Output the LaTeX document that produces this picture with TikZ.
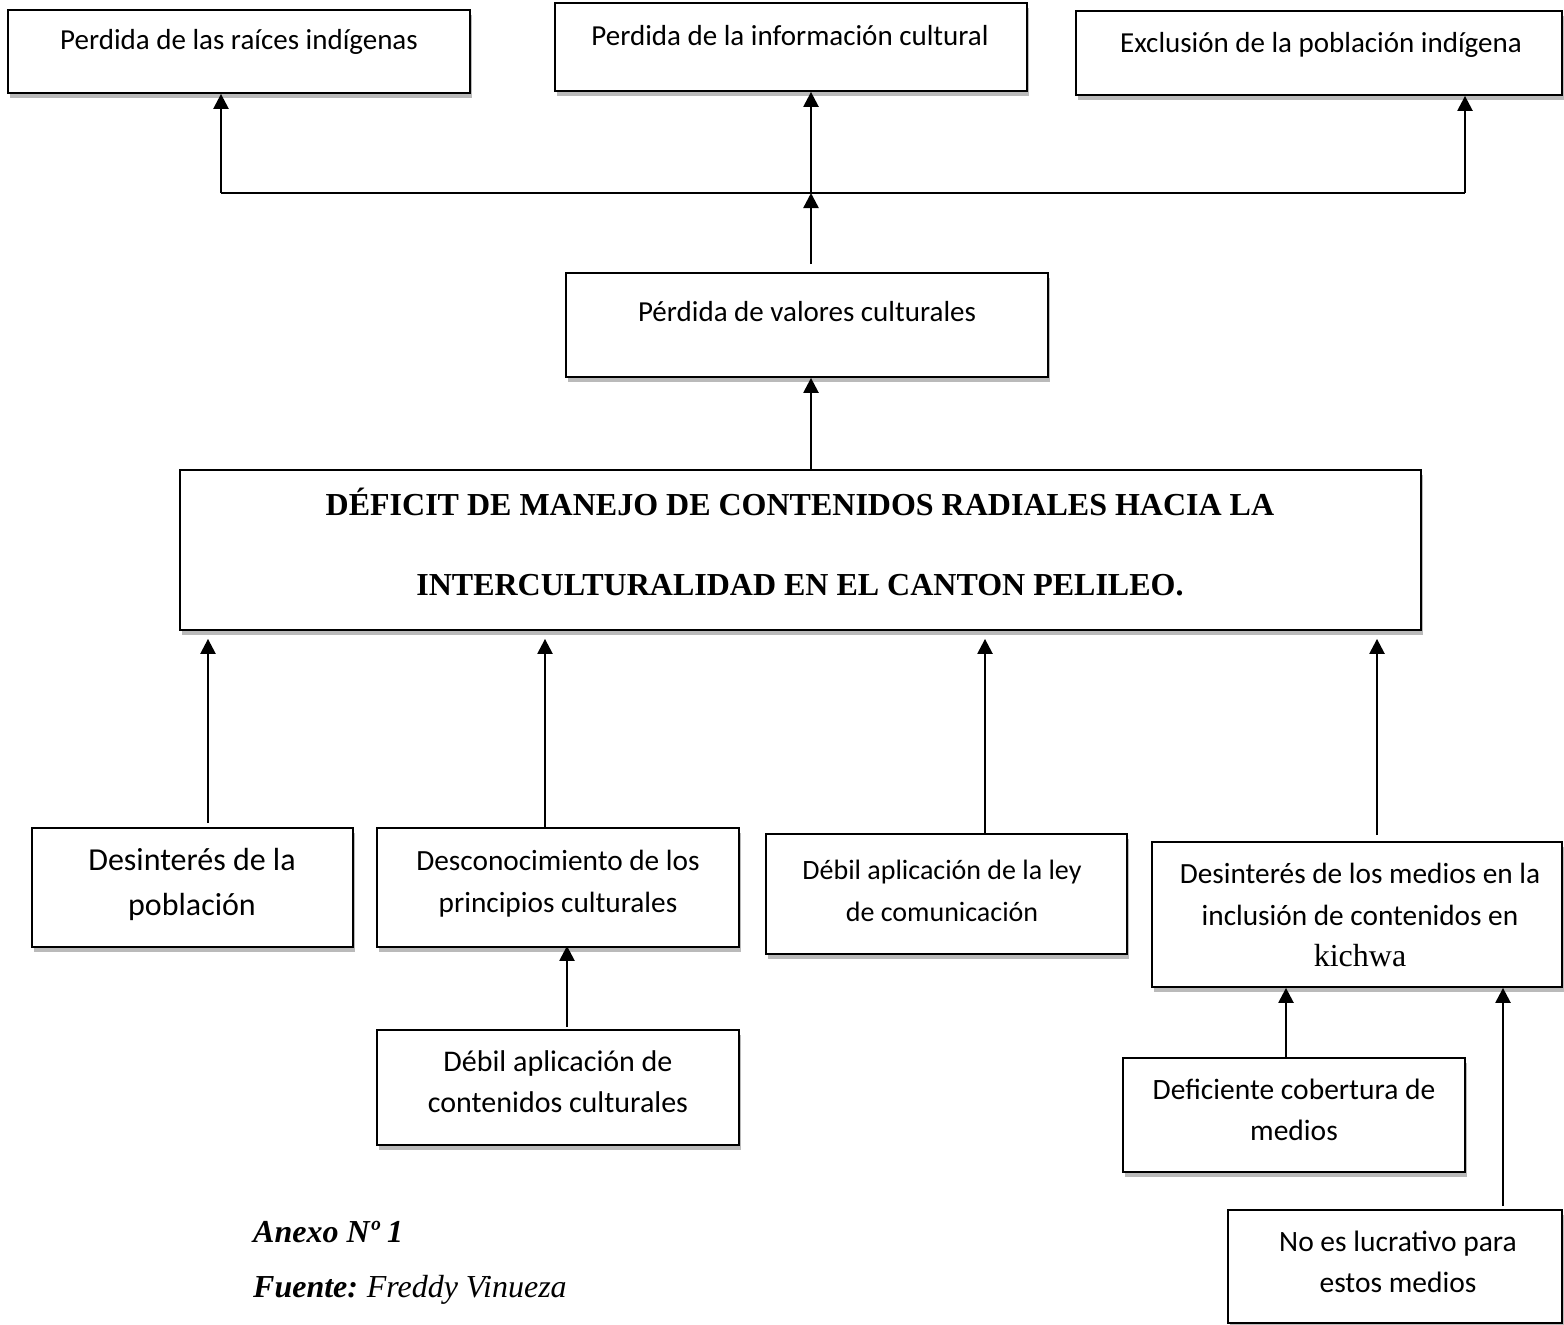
\documentclass[tikz,border=0pt]{standalone}
\usepackage{fontspec}
\setmainfont{Liberation Serif}
\newfontfamily\carlito{Carlito}
\usetikzlibrary{arrows.meta,shadows}
\tikzset{
  box/.style={draw, line width=1.8pt, fill=white, inner sep=0pt,
    drop shadow={shadow xshift=1.5pt, shadow yshift=-4.5pt, fill=black!45, opacity=0.6}},
  lbl/.style={font=\carlito\fontsize{29}{42}\selectfont, align=center, inner sep=0pt},
  arr/.style={line width=2.4pt, -{Triangle[width=15pt,length=15pt]}},
  ln/.style={line width=2pt}
}
\begin{document}
\begin{tikzpicture}[x=1pt,y=1pt]
\useasboundingbox (0,0) rectangle (1564,-1325);
% top effects
\node[box, minimum width=462, minimum height=83] (a1) at (239,-51.5) {};
\node[lbl] (a1t) at (239,-42) {Perdida de las raíces indígenas};
\node[box, minimum width=472, minimum height=88] (a2) at (791,-47) {};
\node[lbl] (a2t) at (790,-36) {Perdida de la información cultural};
\node[box, minimum width=486, minimum height=84] (a3) at (1319,-53) {};
\node[lbl] (a3t) at (1321,-45) {Exclusión de la población indígena};
% middle effect
\node[box, minimum width=482, minimum height=104] (b) at (807,-325) {};
\node[lbl] (bt) at (807,-312) {Pérdida de valores culturales};
% main problem
\node[box, minimum width=1241, minimum height=160] (m) at (800.5,-550) {};
\node[font=\bfseries\fontsize{32}{80}\selectfont, align=center, inner sep=0pt] (mt) at (800,-542)
  {DÉFICIT DE MANEJO DE CONTENIDOS RADIALES HACIA LA\\INTERCULTURALIDAD EN EL CANTON PELILEO.};
% causes
\node[box, minimum width=321, minimum height=119] (c1) at (192.5,-887.5) {};
\node[lbl, font=\carlito\fontsize{32}{45}\selectfont] (c1t) at (192,-884) {Desinterés de la\\población};
\node[box, minimum width=362, minimum height=119] (c2) at (558,-887.5) {};
\node[lbl, font=\carlito\fontsize{29.3}{42}\selectfont] (c2t) at (558,-884) {Desconocimiento de los\\principios culturales};
\node[box, minimum width=361, minimum height=120] (c3) at (946.5,-894) {};
\node[lbl, font=\carlito\fontsize{28}{42}\selectfont] (c3t) at (942,-891) {Débil aplicación de la ley\\de comunicación};
\node[box, minimum width=410, minimum height=145] (c4) at (1357,-914.5) {};
\node[lbl, font=\carlito\fontsize{29.3}{41.5}\selectfont] (c4t) at (1360,-915)
  {Desinterés de los medios en la\\inclusión de contenidos en\\{\rmfamily\fontsize{32}{41.5}\selectfont kichwa}};
% sub-causes
\node[box, minimum width=362, minimum height=115] (d1) at (558,-1087.5) {};
\node[lbl, font=\carlito\fontsize{30}{41}\selectfont] (d1t) at (558,-1082) {Débil aplicación de\\contenidos culturales};
\node[box, minimum width=342, minimum height=114] (d2) at (1294,-1115) {};
\node[lbl, font=\carlito\fontsize{29.5}{41}\selectfont] (d2t) at (1294,-1110) {Deficiente cobertura de\\medios};
\node[box, minimum width=334, minimum height=113] (d3) at (1395,-1266.5) {};
\node[lbl, font=\carlito\fontsize{29.5}{41}\selectfont] (d3t) at (1398,-1262) {No es lucrativo para\\estos medios};
% footer
\node[anchor=base west, inner sep=0pt, font=\bfseries\itshape\fontsize{32}{38}\selectfont] (anexo) at (253,-1242) {Anexo Nº 1};
\node[anchor=base west, inner sep=0pt, font=\itshape\fontsize{32}{38}\selectfont] (fuente) at (253,-1297) {\textbf{Fuente:}\hspace{-2pt} Freddy Vinueza};
% connectors
\coordinate (jL) at (221,-193);
\coordinate (jM) at (811,-193);
\coordinate (jR) at (1465,-193);
\draw[ln] (jL) -- (jR);
\draw[arr] (jL) -- (jL |- a1.south);
\draw[arr] (jM) -- (jM |- a2.south);
\draw[arr] (jR) -- (jR |- a3.south);
\draw[arr, shorten <=8pt] (jM |- b.north) -- (jM);
\draw[arr] (jM |- m.north) -- (jM |- b.south);
\draw[arr, shorten <=4pt, shorten >=8pt] ([xshift=15.5pt]c1.north) -- ([xshift=15.5pt]c1.north |- m.south);
\draw[arr, shorten >=8pt] ([xshift=-13pt]c2.north) -- ([xshift=-13pt]c2.north |- m.south);
\draw[arr, shorten >=8pt] ([xshift=38.5pt]c3.north) -- ([xshift=38.5pt]c3.north |- m.south);
\draw[arr, shorten <=6pt, shorten >=8pt] ([xshift=20pt]c4.north) -- ([xshift=20pt]c4.north |- m.south);
\draw[arr, shorten <=2pt, shorten >=-2pt] ([xshift=9pt]d1.north) -- ([xshift=9pt]d1.north |- c2.south);
\draw[arr] ([xshift=-8pt]d2.north) -- ([xshift=-8pt]d2.north |- c4.south);
\draw[arr, shorten <=3pt] ([xshift=108pt]d3.north) -- ([xshift=108pt]d3.north |- c4.south);
\end{tikzpicture}
\end{document}
